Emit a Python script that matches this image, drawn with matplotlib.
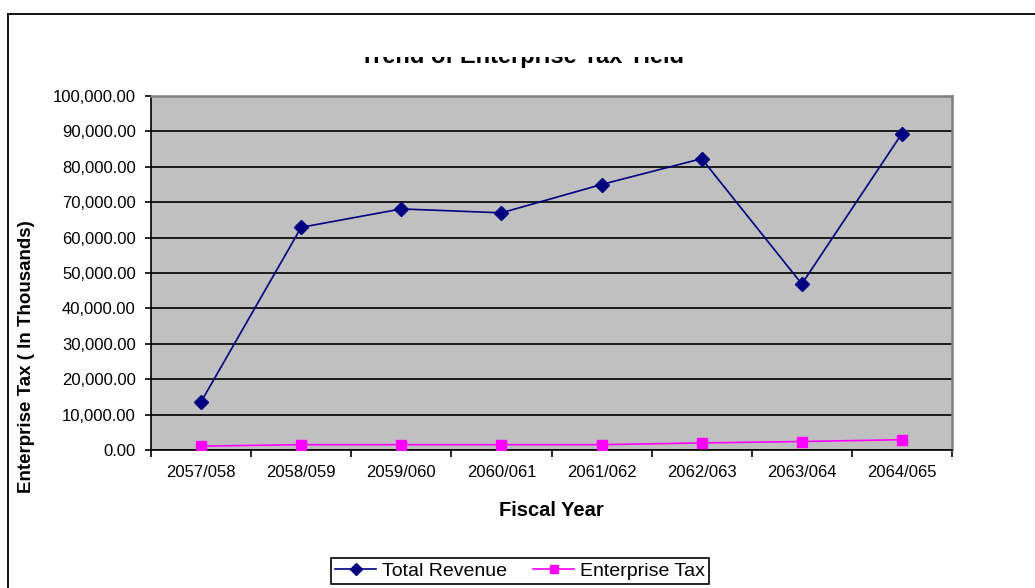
import matplotlib
matplotlib.use("Agg")
import matplotlib.pyplot as plt
from matplotlib.lines import Line2D
from matplotlib.patches import Rectangle
from matplotlib.ticker import FuncFormatter

plt.rcParams["font.family"] = ["Liberation Sans", "DejaVu Sans"]

years = ["2057/058", "2058/059", "2059/060", "2060/061",
         "2061/062", "2062/063", "2063/064", "2064/065"]
total_revenue = [13600, 62900, 68100, 67000, 75000, 82300, 46900, 89400]
enterprise_tax = [1100, 1500, 1500, 1500, 1500, 2000, 2400, 2900]
yticks = list(range(0, 100001, 10000))

W, H = 1035, 588


def fx(px):
    return px / W


def fy(py):
    return 1 - py / H


fig = plt.figure(figsize=[W / 100, H / 100], dpi=100)

# outer chart frame (runs off right and bottom edges)
fig.add_artist(Line2D([fx(8), 1.0], [fy(14), fy(14)], color="black", lw=1.3))
fig.add_artist(Line2D([fx(8), fx(8)], [fy(14), 0.0], color="black", lw=1.3))

# title, upper half hidden like in the original export
fig.text(fx(522), fy(63), "Trend of Enterprise Tax Yield", ha="center",
         va="baseline", fontsize=17, fontweight="bold")
fig.add_artist(Rectangle((fx(300), fy(57)), fx(480), fy(16) - fy(57),
                         facecolor="white", edgecolor="none", zorder=5))

ax = fig.add_axes([fx(151), fy(450), fx(801), 354 / H])
ax.set_facecolor("#C0C0C0")
ax.set_axisbelow(True)

x = list(range(len(years)))
ax.plot(x, total_revenue, color="#000080", lw=1.2, marker="D", markersize=7.5,
        label="Total Revenue", zorder=3)
ax.plot(x, enterprise_tax, color="#FF00FF", lw=1.2, marker="s", markersize=7,
        label="Enterprise Tax", zorder=3)

ax.set_xlim(-0.5, len(years) - 0.5)
ax.set_ylim(0, 100000)

ax.set_yticks(yticks)
ax.yaxis.set_major_formatter(FuncFormatter(lambda v, p: f"{v:,.2f}"))
ax.tick_params(axis="y", direction="out", length=4, width=1.2, pad=7,
               labelsize=12, colors="black")
ax.yaxis.grid(True, color="black", lw=1.2)

ax.set_xticks([i - 0.5 for i in range(len(years) + 1)])
ax.set_xticklabels([])
ax.set_xticks(x, minor=True)
ax.set_xticklabels(years, minor=True)
ax.tick_params(axis="x", which="major", direction="out", length=5, width=1.2)
ax.tick_params(axis="x", which="minor", length=0, pad=11, labelsize=12)

for side in ["left", "bottom"]:
    ax.spines[side].set_color("black")
    ax.spines[side].set_linewidth(1.2)
for side in ["top", "right"]:
    ax.spines[side].set_color("#808080")
    ax.spines[side].set_linewidth(1.8)

fig.text(fx(551), fy(511), "Fiscal Year", ha="center", va="center",
         fontsize=14.5, fontweight="bold")
fig.text(fx(27), fy(357), "Enterprise Tax ( In Thousands)", ha="center",
         va="center", rotation=90, fontsize=13.5, fontweight="bold")

leg = fig.legend(loc="center", bbox_to_anchor=(fx(520), fy(571)), ncol=2,
                 fontsize=14, frameon=True, fancybox=False, framealpha=1,
                 edgecolor="black", handlelength=2.1, handletextpad=0.3,
                 columnspacing=1.35, borderpad=0.2, borderaxespad=0,
                 markerscale=0.85)
leg.get_frame().set_linewidth(1.2)

plt.savefig("out.png", dpi=100)
